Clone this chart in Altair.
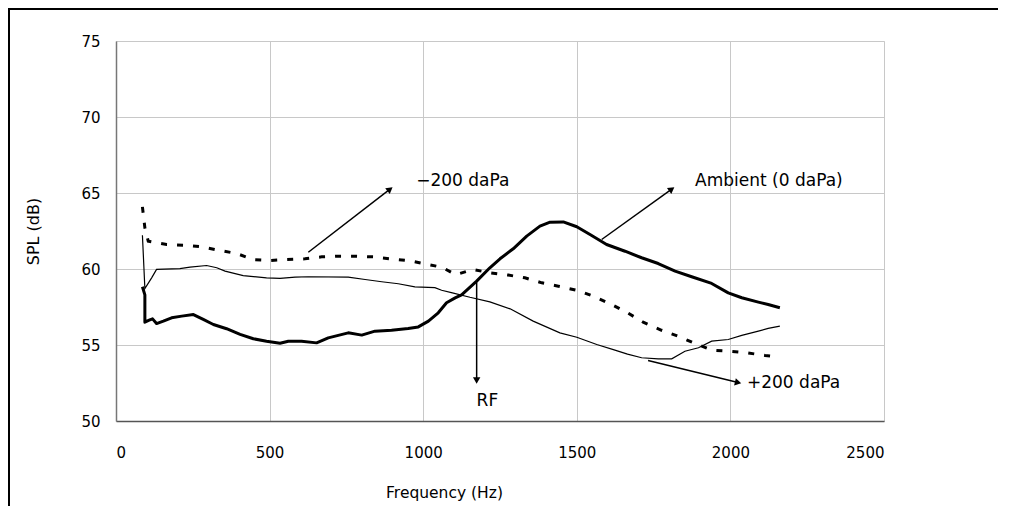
import altair as alt
import pandas as pd

# ---- Data ----
amb_hz = [86, 94, 94, 108, 119, 132, 154, 181, 214, 252, 284, 317, 360, 404, 447, 490, 534, 561, 604, 653, 691,
          756, 800, 843, 897, 951, 984, 1017, 1049, 1076, 1104, 1125, 1174, 1217, 1250, 1293, 1337, 1380, 1413,
          1456, 1500, 1543, 1597, 1657, 1711, 1765, 1820, 1874, 1939, 1993, 2037, 2091, 2123, 2161]
amb_db = [58.83, 58.3, 56.5, 56.63, 56.72, 56.41, 56.57, 56.79, 56.9, 57.0, 56.68, 56.35, 56.07, 55.7, 55.41, 55.25,
          55.12, 55.25, 55.25, 55.14, 55.47, 55.8, 55.65, 55.91, 55.97, 56.08, 56.19, 56.57, 57.12, 57.78, 58.1,
          58.3, 59.2, 60.08, 60.67, 61.33, 62.16, 62.82, 63.08, 63.1, 62.78, 62.27, 61.61, 61.17, 60.74, 60.36,
          59.86, 59.49, 59.05, 58.43, 58.11, 57.82, 57.66, 57.45]

pos_hz = [86, 94, 116, 132, 208, 241, 295, 328, 355, 414, 490, 534, 583, 626, 756, 811, 865, 919, 973, 1038, 1060,
          1095, 1152, 1217, 1283, 1358, 1445, 1500, 1565, 1619, 1665, 1711, 1765, 1809, 1852, 1896, 1939, 1993,
          2037, 2091, 2123, 2161]
pos_db = [62.22, 58.72, 59.42, 59.97, 60.03, 60.12, 60.23, 60.08, 59.86, 59.57, 59.42, 59.38, 59.46, 59.49, 59.46,
          59.31, 59.16, 59.03, 58.83, 58.77, 58.6, 58.43, 58.14, 57.84, 57.38, 56.57, 55.8, 55.51, 55.03, 54.7,
          54.4, 54.16, 54.09, 54.09, 54.59, 54.82, 55.25, 55.36, 55.63, 55.91, 56.09, 56.24]

neg_hz = [86, 94, 105, 165, 219, 279, 333, 393, 447, 501, 550, 615, 670, 724, 778, 838, 892, 951, 1006, 1060, 1106,
          1163, 1217, 1277, 1331, 1386, 1440, 1500, 1554, 1614, 1665, 1716, 1776, 1830, 1885, 1939, 1999, 2053,
          2113, 2159]
neg_db = [64.09, 62.71, 61.83, 61.61, 61.57, 61.46, 61.24, 61.02, 60.62, 60.56, 60.62, 60.67, 60.8, 60.84, 60.84,
          60.8, 60.67, 60.56, 60.34, 60.12, 59.63, 59.97, 59.75, 59.6, 59.42, 59.09, 58.87, 58.6, 58.21, 57.66,
          57.12, 56.5, 55.97, 55.58, 55.1, 54.66, 54.59, 54.49, 54.31, 54.2]

# annotations (data coordinates)
ann_text = ["\u2212200 daPa", "Ambient (0 daPa)", "RF", "+200 daPa"]
ann_hz = [977, 1885, 1209, 2054]
ann_db = [65.79, 65.79, 51.3, 52.47]
ann_align = ["left", "left", "center", "left"]

arr_x0 = [626, 1581, 1174, 1732]
arr_y0 = [61.1, 61.94, 59.13, 53.98]
arr_x1 = [892, 1809, 1174, 2025]
arr_y1 = [65.25, 65.26, 52.66, 52.53]
arr_angle = [52.4, 54.3, 180, 103.7]

FONT = "DejaVu Sans"

xs = alt.Scale(domain=[0, 2500], nice=False, zero=False)
ys = alt.Scale(domain=[50, 75], nice=False, zero=False)


def series(hz, db):
    return pd.DataFrame({"hz": hz, "db": db, "i": list(range(len(hz)))})


x_axis = alt.Axis(values=[0, 500, 1000, 1500, 2000, 2500], format="d", title="Frequency (Hz)", grid=True,
                  gridColor="#c8c8c8", gridWidth=1, domainColor="#555555", domainWidth=1.5, ticks=False,
                  labelPadding=24, labelFontSize=15, labelFont=FONT, labelColor="#000",
                  titleFont=FONT, titleFontSize=15.5, titleFontWeight="normal", titleColor="#000",
                  titleX=328, titleY=71, titleBaseline="middle", titleAlign="center")
y_axis = alt.Axis(values=[50, 55, 60, 65, 70, 75], format="d", title="SPL (dB)", grid=True,
                  gridColor="#c8c8c8", gridWidth=1, domainColor="#777777", domainWidth=1.5, ticks=False,
                  labelPadding=16, labelFontSize=15, labelFont=FONT, labelColor="#000",
                  titleFont=FONT, titleFontSize=16, titleFontWeight="normal", titleColor="#000",
                  titleX=-78, titleY=190, titleAngle=270, titleAlign="center", titleBaseline="alphabetic")

base_x = alt.X("hz:Q", scale=xs, axis=x_axis)
base_y = alt.Y("db:Q", scale=ys, axis=y_axis)

amb = alt.Chart(series(amb_hz, amb_db)).mark_line(color="black", strokeWidth=3, strokeJoin="round").encode(
    x=base_x, y=base_y, order="i:Q")
pos = alt.Chart(series(pos_hz, pos_db)).mark_line(color="black", strokeWidth=1.2).encode(
    x=alt.X("hz:Q", scale=xs), y=alt.Y("db:Q", scale=ys), order="i:Q")
neg = alt.Chart(series(neg_hz, neg_db)).mark_line(color="black", strokeWidth=3, strokeDash=[6, 10]).encode(
    x=alt.X("hz:Q", scale=xs), y=alt.Y("db:Q", scale=ys), order="i:Q")

arr_df = pd.DataFrame({"x0": arr_x0, "y0": arr_y0, "x1": arr_x1, "y1": arr_y1, "ang": arr_angle})
arr_lines = alt.Chart(arr_df).mark_rule(color="black", strokeWidth=1.5).encode(
    x=alt.X("x0:Q", scale=xs), y=alt.Y("y0:Q", scale=ys), x2="x1:Q", y2="y1:Q")
arr_heads = alt.Chart(arr_df).mark_point(shape="triangle-up", filled=True, color="black", size=55, opacity=1).encode(
    x=alt.X("x1:Q", scale=xs), y=alt.Y("y1:Q", scale=ys), angle=alt.Angle("ang:Q", scale=None))

ann_df = pd.DataFrame({"t": ann_text, "x": ann_hz, "y": ann_db, "al": ann_align})
texts = []
for al in ["left", "center"]:
    texts.append(alt.Chart(ann_df[ann_df["al"] == al]).mark_text(
        align=al, baseline="middle", fontSize=17, font=FONT, color="black").encode(
        x=alt.X("x:Q", scale=xs), y=alt.Y("y:Q", scale=ys), text="t:N"))

# outer frame (top and left edges visible)
frame_top = alt.Chart(pd.DataFrame({"a": [0]})).mark_rule(color="black", strokeWidth=2).encode(
    x=alt.value(-108), x2=alt.value(900), y=alt.value(-32))
frame_left = alt.Chart(pd.DataFrame({"a": [0]})).mark_rule(color="black", strokeWidth=2).encode(
    x=alt.value(-107), y=alt.value(-33), y2=alt.value(470))

chart = alt.layer(amb, pos, neg, arr_lines, arr_heads, *texts, frame_top, frame_left).properties(
    width=768, height=380,
    autosize=alt.AutoSizeParams(type="none"),
    padding={"left": 108, "top": 33, "right": 114, "bottom": 85},
).configure_view(stroke=None).configure(background="white")

chart.save("out.html", embed_options={"renderer": "svg", "actions": False})
